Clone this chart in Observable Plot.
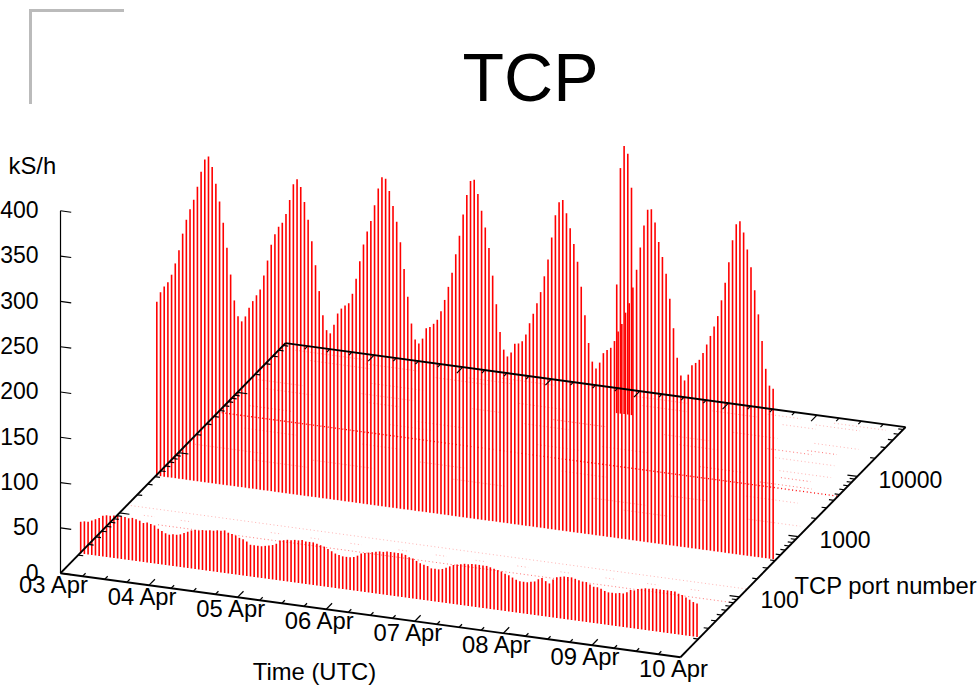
<!DOCTYPE html>
<html><head><meta charset="utf-8">
<style>
html,body{margin:0;padding:0;background:#fff;width:979px;height:686px;overflow:hidden}
#wrap{position:relative;width:979px;height:686px}
#corner{position:absolute;left:29px;top:9px;width:92px;height:92px;border-left:3px solid #bbb;border-top:3px solid #bbb}
svg{display:block}
</style>
<script src="https://cdn.jsdelivr.net/npm/d3@7"></script>
<script src="https://cdn.jsdelivr.net/npm/@observablehq/plot@0.6"></script>
</head><body><div id="wrap"><div id="corner"></div></div>
<script>
// Values in kS/h, one per hour from 03 Apr 00:00 UTC
const port445 = [191,202,209,214,223,236,251,270,286,298,309,324,341,355,359,348,330,311,288,261,232,204,187,182,188,198,206,213,220,236,253,271,283,292,297,307,323,341,347,339,323,304,281,255,227,201,185,182,192,205,211,215,218,229,246,266,
285,300,312,330,349,362,361,348,332,315,293,264,234,205,188,184,190,202,204,208,213,223,236,251,267,288,309,333,355,371,373,358,340,322,300,270,239,209,190,183,188,198,199,202,210,223,234,246,259,277,296,321,346,361,
364,350,334,317,298,271,240,210,190,183,190,201,205,208,216,227,236,249,260,278,298,323,348,366,367,353,332,316,298,271,239,207,188,183,190,201,204,208,216,226,236,247,259,277,297,320,345,363,367,355,337,318,293,267,238,208,190,187];
const port22 = [34,35,35,37,39,41,44,45,45,46,46,46,46,45,46,45,44,42,43,42,41,38,36,34,33,34,34,35,37,39,41,42,42,43,43,44,44,45,45,46,44,43,42,40,39,37,34,34,34,34,35,36,37,39,43,44,45,45,46,46,47,46,46,46,45,44,43,41,39,37,36,35,35,35,36,38,41,
42,43,44,45,46,46,47,47,47,47,47,46,44,43,41,39,38,37,35,35,35,36,38,40,42,43,44,45,45,46,46,46,46,46,45,44,43,42,40,39,37,35,34,34,34,35,36,39,41,38,36,41,44,45,46,46,46,45,44,43,43,41,39,39,38,36,35,35,35,36,36,38,41,41,43,44,45,45,46,46,46,46,46,46,46,44,43,41,39,37,36];
const burstHours = [95.4,96.4,97.4,98.4,99.4];
const burstValues = [141,270,295,287,250];
const mainPorts = {front:22, back:430, burst:29000};

// Thin floor traces: [port, first hour, last hour]
const strongRuns = [[4690,1,168]];
const mediumRuns = [[80,12,168],[6760,6,18],[16900,82,96],[16900,140,152],[6760,128,140],[6760,150,158],[5300,146,160],[19000,150,158]];
const paleRuns = [[135,1,168],[54000,4,22],[54000,60,74],[54000,96,110],[54000,132,141],[54000,150,164],[46900,24,38],[46900,52,64],[46900,118,130],[46900,146,158],[40700,10,26],[40700,44,58],[40700,100,112],[40700,138,147],
[16900,2,14],[16900,30,44],[16900,60,68],[16900,112,124],[12900,6,18],[12900,34,42],[12900,76,88],[12900,118,128],[12900,144,160],[6760,44,56],[6760,84,96],[3090,10,24],[3090,42,52],[3090,96,108],[3090,146,160],
[1433,2,20],[1433,34,50],[1433,72,86],[1433,110,124],[1433,152,166],[1100,20,34],[1100,120,132],[25000,30,44],[25000,70,82],[25000,128,140],[25000,150,162],[8500,50,62],[8500,100,112],[8500,148,162],[2200,60,72],[2200,128,138]];
const shortRunHours = [6.4,16.4,40.8,51.6,62.4,75.4,85.5,96.3,107.6,119.3,131.5,142.8,154.6];
const shortRunPort = 103;

const kTicks = [0,50,100,150,200,250,300,350,400];
const dayLabels = ["03 Apr","04 Apr","05 Apr","06 Apr","07 Apr","08 Apr","09 Apr","10 Apr"];
const timeTicks = [0,6,12,18,24,30,36,42,48,54,60,66,72,78,84,90,96,102,108,114,120,126,132,138,144,150,156,162,168];
const portMajor = [100,1000,10000];
const portMinor = [20,30,40,50,60,70,80,90,200,300,400,500,600,700,800,900,2000,3000,4000,5000,6000,7000,8000,9000,20000,30000,40000,50000,60000];
const portMin = 10, portMax = 65536, hourMax = 168;

// Oblique projection of (hour, port, kS/h) on the two linear scales
const decades = Math.log10(portMax/portMin);
const U = p => Math.log10(p/portMin)/decades;
const PX = (h,u) => h + 60.97*u;
const PY = (h,u,k) => k - 0.5519*h + 253.9*u;

const rods = [];
port445.forEach((v,h)=>rods.push({h,u:U(mainPorts.back),v}));
port22.forEach((v,h)=>rods.push({h,u:U(mainPorts.front),v}));
burstHours.forEach((h,i)=>rods.push({h,u:U(mainPorts.burst),v:burstValues[i]}));
const runs = a => a.map(([p,a0,a1])=>({u:U(p),a:a0,b:a1}));
const shortRuns = shortRunHours.map(h=>({u:U(shortRunPort),a:h,b:h+3}));

const seg = (arr,opt) => Plot.link(arr,{x1:d=>PX(d.h1,d.u1),y1:d=>PY(d.h1,d.u1,d.k1||0),x2:d=>PX(d.h2,d.u2),y2:d=>PY(d.h2,d.u2,d.k2||0),stroke:"#000",...opt});
const floorRun = (arr,opt) => Plot.link(arr,{x1:d=>PX(d.a,d.u),y1:d=>PY(d.a,d.u,0),x2:d=>PX(d.b,d.u),y2:d=>PY(d.b,d.u,0),stroke:"#f00",strokeDasharray:"1 2.69",...opt});

const timeSegs = timeTicks.flatMap(h=>{const l=h%24===0?0.026:0.013;return [{h1:h,u1:0,h2:h,u2:l},{h1:h,u1:1,h2:h,u2:1-l}];});
const portSegs = [...portMajor.map(p=>[p,2.7]),...portMinor.map(p=>[p,1.35])].flatMap(([p,l])=>[{h1:0,u1:U(p),h2:l,u2:U(p)},{h1:hourMax,u1:U(p),h2:hourMax-l,u2:U(p)}]);
const kSegs = kTicks.map(k=>({h1:0,u1:0,k1:k,h2:2.9,u2:0,k2:k}));
const border = [{h1:0,u1:0,h2:hourMax,u2:0},{h1:hourMax,u1:0,h2:hourMax,u2:1},{h1:0,u1:1,h2:hourMax,u2:1},{h1:0,u1:0,h2:0,u2:1}];
const kAxis = [{h1:0,u1:0,k1:0,h2:0,u2:0,k2:400}];
const font = "Liberation Sans, Arial, sans-serif";

const plot = Plot.plot({
  width:979,height:686,margin:0,
  style:{background:"transparent",fontFamily:font,color:"#000",overflow:"visible"},
  x:{axis:null,type:"linear",domain:[-16.26,249.01],range:[0,979]},
  y:{axis:null,type:"linear",domain:[-125.05,632.12],range:[686,0]},
  marks:[
    floorRun(runs(paleRuns),{strokeWidth:1,strokeOpacity:0.3}),
    floorRun(shortRuns,{strokeWidth:1,strokeOpacity:0.3}),
    floorRun(runs(mediumRuns),{strokeWidth:1,strokeOpacity:0.55}),
    floorRun(runs(strongRuns),{strokeWidth:1.3,strokeOpacity:1}),
    Plot.link(rods,{x1:d=>PX(d.h,d.u),y1:d=>PY(d.h,d.u,-1),x2:d=>PX(d.h,d.u),y2:d=>PY(d.h,d.u,d.v),stroke:"#f00",strokeWidth:1.6}),
    seg(border,{strokeWidth:1.9}),
    seg(kAxis,{strokeWidth:1.2}),
    seg(timeSegs,{strokeWidth:1.2}),
    seg(portSegs,{strokeWidth:1.2}),
    seg(kSegs,{strokeWidth:1.1}),
    Plot.text(kTicks,{x:()=>PX(0,0),y:k=>PY(0,0,k),text:k=>String(k),textAnchor:"end",dx:-22,dy:0,fontSize:23,fill:"#000"}),
    Plot.text(dayLabels,{x:(d,i)=>PX(i*24,0),y:(d,i)=>PY(i*24,0,0),text:d=>d,textAnchor:"middle",dx:-7,dy:12,fontSize:23.8,fill:"#000"}),
    Plot.text(portMajor,{x:p=>PX(hourMax,U(p)),y:p=>PY(hourMax,U(p),0),text:p=>String(p),textAnchor:"start",dx:21,dy:4,fontSize:23,fill:"#000"}),
    Plot.text(["kS/h"],{frameAnchor:"top-left",dx:8,dy:166,lineAnchor:"middle",textAnchor:"start",fontSize:23.8,fill:"#000"}),
    Plot.text(["Time (UTC)"],{frameAnchor:"top-left",dx:314,dy:672,lineAnchor:"middle",textAnchor:"middle",fontSize:23.8,fill:"#000"}),
    Plot.text(["TCP port number"],{frameAnchor:"top-left",dx:794,dy:586,lineAnchor:"middle",textAnchor:"start",fontSize:23.8,fill:"#000"}),
    Plot.text(["TCP"],{frameAnchor:"top-left",dx:530,dy:79,lineAnchor:"middle",textAnchor:"middle",fontSize:68,fill:"#000"})
  ]
});
document.getElementById("wrap").appendChild(plot);
</script></body></html>
